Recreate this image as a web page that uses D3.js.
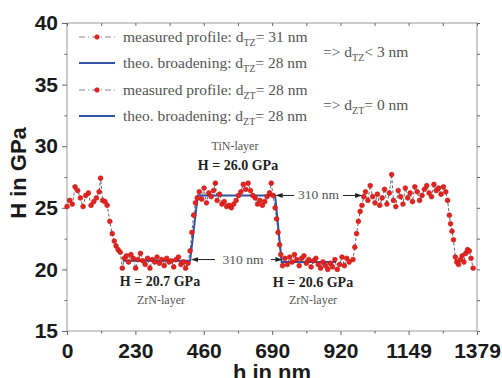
<!DOCTYPE html>
<html>
<head>
<meta charset="utf-8">
<script src="https://cdn.jsdelivr.net/npm/d3@7"></script>
<style>
  body { margin: 0; background: #fff; }
  svg { display: block; }
</style>
</head>
<body>
<div id="chart"></div>
<script>
// measured hardness profile (depth in nm, hardness in GPa)
const profileNm = [0, 9, 18, 27, 36, 45, 54, 63, 72, 81, 90, 99, 108, 113, 120, 128, 135,
  144, 152, 159, 165, 172, 179, 186, 193, 200,
  207, 215, 223, 231, 239, 247, 255, 263, 271, 279, 287, 295, 303, 311, 319, 327, 335, 343, 351, 359, 367, 375, 383, 391, 399, 407,
  414, 420, 426, 432, 438,
  445, 453, 461, 469, 477, 485, 493, 499, 505, 513, 521, 529, 537, 545, 553, 561, 569, 577, 585, 593, 601, 609, 617, 625, 633, 641, 649, 657, 665, 673, 681, 687, 693,
  700, 705, 710, 715, 719,
  725, 733, 741, 749, 757, 765, 773, 781, 789, 797, 805, 813, 821, 829, 837, 845, 853, 861, 869, 877, 885, 893, 901, 909, 917, 925, 933, 941, 949,
  962, 968, 974, 980, 986, 992, 998,
  1004, 1012, 1020, 1028, 1036, 1044, 1052, 1060, 1068, 1076, 1084, 1092, 1098, 1106, 1114, 1122, 1130, 1138, 1146, 1154, 1162, 1170, 1178, 1186, 1194, 1202, 1210, 1218, 1226, 1234, 1242, 1250, 1258, 1266, 1274, 1280,
  1286, 1290, 1295, 1300, 1306, 1311, 1317, 1323, 1329, 1335, 1341, 1347, 1353, 1359, 1366];
const profileGPa = [25.1, 25.6, 25.3, 26.7, 26.4, 25.8, 25.1, 26.0, 26.2, 25.2, 25.5, 25.8, 26.3, 27.4, 25.6, 25.5, 25.2,
  23.9, 22.9, 22.3, 21.9, 21.6, 21.4, 20.1, 20.9, 21.1,
  20.6, 21.2, 20.9, 20.1, 20.8, 21.3, 20.7, 20.4, 20.9, 20.1, 20.8, 20.6, 21.0, 20.5, 20.8, 20.3, 20.9, 20.6, 20.7, 20.2, 20.8, 21.0, 20.4, 20.6, 20.1, 20.5,
  21.5, 23.0, 24.4, 25.4, 25.8,
  26.3, 25.7, 26.6, 25.4, 26.2, 25.9, 26.4, 27.0, 25.6, 26.1, 25.3, 25.5, 25.1, 25.2, 25.0, 25.3, 25.6, 26.0, 26.3, 26.9, 26.5, 27.0, 26.4, 26.0, 25.8, 25.3, 25.6, 25.2, 25.5, 25.9, 26.2, 27.0, 26.0,
  25.0, 24.1, 23.0, 22.0, 21.2,
  20.3, 20.9, 20.4, 21.0, 20.6, 21.2, 20.8, 20.3, 20.9, 21.1, 20.5, 20.8, 20.2, 20.7, 20.9, 20.4, 20.1, 20.6, 20.3, 20.0, 20.5, 20.2, 20.8, 20.0, 20.4, 21.0, 20.3, 20.9, 20.6,
  20.8, 21.8, 22.9, 23.9, 24.7, 25.2, 25.9,
  26.3, 25.6, 26.8, 25.9, 25.4, 26.1, 25.2, 25.8, 26.5, 25.3, 26.2, 27.7, 25.6, 25.1, 26.4, 25.9, 25.3, 26.6, 25.8, 26.2, 25.5, 26.7, 26.3, 25.6, 26.0, 26.5, 26.8, 26.2, 25.9, 26.9, 26.4, 26.6, 26.1, 26.7, 26.3, 25.6,
  24.4, 23.7, 23.1, 22.4, 21.0, 20.6, 20.4, 20.8, 21.1, 20.6, 21.3, 21.6, 21.5, 20.9, 20.1];

// theoretical broadening step profile
const theoNm = [188, 414, 440, 700, 722, 905];
const theoGPa = [20.7, 20.7, 26.0, 26.0, 20.6, 20.6];

// axis ticks
const xTicks = [0, 230, 460, 690, 920, 1149, 1379];
const xMinor = [115, 345, 575, 805, 1034.5, 1264];
const yTicks = [15, 20, 25, 30, 35, 40];
const yMinor = [17.5, 22.5, 27.5, 32.5, 37.5];

// legend
const legendKinds = ["measured", "theo", "measured", "theo"];
const legendLabels = ["measured profile: d", "theo. broadening: d", "measured profile: d", "theo. broadening: d"];
const legendSubs = ["TZ", "TZ", "ZT", "ZT"];
const legendValues = ["= 31 nm", "= 28 nm", "= 28 nm", "= 28 nm"];
const conclSubs = ["TZ", "ZT"];
const conclValues = ["< 3 nm", "= 0 nm"];

const width = 502;
const height = 378;
const margin = { top: 23, right: 25, bottom: 47, left: 67 };

const svg = d3.select("#chart").append("svg")
  .attr("width", width)
  .attr("height", height);

const x = d3.scaleLinear().domain([0, 1379]).range([margin.left, width - margin.right]);
const y = d3.scaleLinear().domain([15, 40]).range([height - margin.bottom, margin.top]);

const serif = "'Liberation Serif', 'DejaVu Serif', serif";
const sans = "'Liberation Sans', Arial, sans-serif";

// arrow heads
const defs = svg.append("defs");
defs.append("marker")
  .attr("id", "arrow")
  .attr("viewBox", "0 0 10 10")
  .attr("refX", 9).attr("refY", 5)
  .attr("markerWidth", 7).attr("markerHeight", 7)
  .attr("orient", "auto")
  .append("path")
  .attr("d", "M0,1.5L10,5L0,8.5Z")
  .attr("fill", "#222");

// frame
svg.append("rect")
  .attr("x", x(0)).attr("y", y(40))
  .attr("width", x(1379) - x(0))
  .attr("height", y(15) - y(40))
  .attr("fill", "none")
  .attr("stroke", "#9a9a9a")
  .attr("stroke-width", 1);

function styleAxis(g) {
  g.select(".domain").remove();
  g.selectAll(".tick line").attr("stroke", "#666");
}

// bottom axis
svg.append("g")
  .attr("transform", `translate(0,${y(15)})`)
  .call(d3.axisBottom(x).tickValues(xTicks).tickSize(4).tickPadding(8).tickFormat(d3.format("d")))
  .call(styleAxis)
  .selectAll("text")
  .attr("font-family", sans)
  .attr("font-size", 21)
  .attr("font-weight", "bold")
  .attr("fill", "#1a1a1a");

svg.append("g")
  .attr("transform", `translate(0,${y(15)})`)
  .call(d3.axisBottom(x).tickValues(xMinor).tickSize(2.5).tickFormat(""))
  .call(styleAxis);

// top axis (inward ticks)
svg.append("g")
  .attr("transform", `translate(0,${y(40)})`)
  .call(d3.axisTop(x).tickValues(xTicks.concat(xMinor)).tickSize(-3).tickFormat(""))
  .call(styleAxis);

// left axis
svg.append("g")
  .attr("transform", `translate(${x(0)},0)`)
  .call(d3.axisLeft(y).tickValues(yTicks).tickSize(5).tickPadding(4))
  .call(styleAxis)
  .selectAll("text")
  .attr("font-family", sans)
  .attr("font-size", 21)
  .attr("font-weight", "bold")
  .attr("fill", "#1a1a1a");

svg.append("g")
  .attr("transform", `translate(${x(0)},0)`)
  .call(d3.axisLeft(y).tickValues(yMinor).tickSize(2.5).tickFormat(""))
  .call(styleAxis);

// right axis
svg.append("g")
  .attr("transform", `translate(${x(1379)},0)`)
  .call(d3.axisRight(y).tickValues(yTicks.concat(yMinor)).tickSize(3).tickFormat(""))
  .call(styleAxis);

// axis titles
svg.append("text")
  .attr("transform", `translate(26,${(y(15) + y(40)) / 2 - 4}) rotate(-90)`)
  .attr("text-anchor", "middle")
  .attr("font-family", sans)
  .attr("font-size", 22)
  .attr("font-weight", "bold")
  .attr("fill", "#1a1a1a")
  .text("H in GPa");

svg.append("text")
  .attr("x", (x(0) + x(1379)) / 2)
  .attr("y", 380)
  .attr("text-anchor", "middle")
  .attr("font-family", sans)
  .attr("font-size", 22)
  .attr("font-weight", "bold")
  .attr("fill", "#1a1a1a")
  .text("h in nm");

// data
const profile = profileNm.map((d, i) => ({ h: d, v: profileGPa[i] }));
const theo = theoNm.map((d, i) => ({ h: d, v: theoGPa[i] }));

const line = d3.line().x(d => x(d.h)).y(d => y(d.v));

svg.append("path")
  .datum(profile)
  .attr("fill", "none")
  .attr("stroke", "#666")
  .attr("stroke-width", 1)
  .attr("stroke-dasharray", "3,2")
  .attr("d", line);

svg.append("path")
  .datum(theo)
  .attr("fill", "none")
  .attr("stroke", "#3551a3")
  .attr("stroke-width", 2)
  .attr("d", line);

svg.selectAll("circle.pt")
  .data(profile)
  .enter().append("circle")
  .attr("class", "pt")
  .attr("cx", d => x(d.h))
  .attr("cy", d => y(d.v))
  .attr("r", 2.4)
  .attr("fill", "#e8231d")
  .attr("stroke", "#b81515")
  .attr("stroke-width", 0.6);

// legend
const legendY = [37, 63, 90, 116];
legendKinds.forEach((kind, i) => {
  const ly = legendY[i];
  if (kind === "measured") {
    svg.append("line")
      .attr("x1", 79).attr("x2", 115).attr("y1", ly).attr("y2", ly)
      .attr("stroke", "#888").attr("stroke-width", 1)
      .attr("stroke-dasharray", "6,3,1,3");
    svg.append("circle")
      .attr("cx", 97).attr("cy", ly).attr("r", 2.3)
      .attr("fill", "#e8231d").attr("stroke", "#b81515").attr("stroke-width", 0.6);
  } else {
    svg.append("line")
      .attr("x1", 79).attr("x2", 115).attr("y1", ly).attr("y2", ly)
      .attr("stroke", "#3551a3").attr("stroke-width", 2);
  }
  const t = svg.append("text")
    .attr("x", 123).attr("y", ly + 5)
    .attr("font-family", serif)
    .attr("font-size", 15.5)
    .attr("fill", "#555");
  t.append("tspan").text(legendLabels[i]);
  t.append("tspan").attr("dy", 4).attr("font-size", 10).text(legendSubs[i]);
  t.append("tspan").attr("dy", -4).text(legendValues[i]);
});

const conclY = [52, 105];
conclSubs.forEach((s, i) => {
  const t = svg.append("text")
    .attr("x", 323).attr("y", conclY[i] + 5)
    .attr("font-family", serif)
    .attr("font-size", 15.5)
    .attr("fill", "#555");
  t.append("tspan").text("=> d");
  t.append("tspan").attr("dy", 4).attr("font-size", 10).text(s);
  t.append("tspan").attr("dy", -4).text(conclValues[i]);
});

// layer annotations
function label(cx, by, txt, bold) {
  svg.append("text")
    .attr("x", cx).attr("y", by)
    .attr("text-anchor", "middle")
    .attr("font-family", serif)
    .attr("font-size", bold ? 14 : 12)
    .attr("font-weight", bold ? "bold" : "normal")
    .attr("fill", bold ? "#222" : "#555")
    .text(txt);
}
label(235, 150, "TiN-layer", false);
label(238, 170, "H = 26.0 GPa", true);
label(160, 286, "H = 20.7 GPa", true);
label(161, 304, "ZrN-layer", false);
label(313, 287, "H = 20.6 GPa", true);
label(313, 304, "ZrN-layer", false);

// 310 nm width markers
function widthMark(x1, x2, yv, tx0, tx1) {
  const yy = y(yv);
  svg.append("line")
    .attr("x1", tx0 - 3).attr("x2", x1).attr("y1", yy).attr("y2", yy)
    .attr("stroke", "#222").attr("stroke-width", 1)
    .attr("marker-end", "url(#arrow)");
  svg.append("line")
    .attr("x1", tx1 + 3).attr("x2", x2).attr("y1", yy).attr("y2", yy)
    .attr("stroke", "#222").attr("stroke-width", 1)
    .attr("marker-end", "url(#arrow)");
  svg.append("text")
    .attr("x", (tx0 + tx1) / 2).attr("y", yy + 4)
    .attr("text-anchor", "middle")
    .attr("font-family", serif)
    .attr("font-size", 13.5)
    .attr("fill", "#555")
    .text("310 nm");
}
widthMark(x(704), x(990), 26.0, 297, 340);
widthMark(x(420), x(722), 20.8, 218, 268);
</script>
</body>
</html>
